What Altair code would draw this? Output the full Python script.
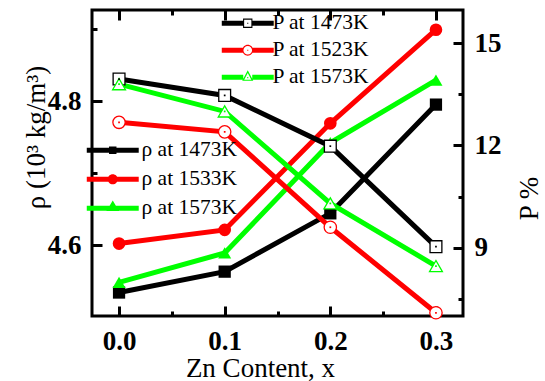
import altair as alt
import pandas as pd

# ---------------- data ----------------
x_vals = [0.0, 0.1, 0.2, 0.3]

rho_labels = ["ρ at 1473K", "ρ at 1533K", "ρ at 1573K"]
rho_1473 = [4.534, 4.563, 4.644, 4.795]
rho_1533 = [4.602, 4.621, 4.769, 4.899]
rho_1573 = [4.548, 4.589, 4.742, 4.829]

p_labels = ["P at 1473K", "P at 1523K", "P at 1573K"]
p_1473 = [13.95, 13.47, 11.98, 9.03]
p_1523 = [12.68, 12.40, 9.60, 7.09]
p_1573 = [13.80, 13.00, 10.30, 8.46]

x_ticks = [0.0, 0.1, 0.2, 0.3]
x_minor = [0.05, 0.15, 0.25]
rho_ticks = [4.6, 4.8]
rho_minor = [4.7, 4.9]
p_ticks = [9, 12, 15]
p_minor = [7.5, 10.5, 13.5]

series_colors = ["#000000", "#ff0000", "#00ff00"]

FONT = "Liberation Serif"
W, H = 371, 306


def long(labels, arrays):
    rows = []
    for lab, arr in zip(labels, arrays):
        for xv, v in zip(x_vals, arr):
            rows.append({"x": xv, "v": v, "s": lab})
    return pd.DataFrame(rows)


rho_df = long(rho_labels, [rho_1473, rho_1533, rho_1573])
p_df = long(p_labels, [p_1473, p_1523, p_1573])

xsc = alt.Scale(domain=[-0.0256, 0.3256], nice=False, zero=False)
ysc_rho = alt.Scale(domain=[4.5014, 4.9264], nice=False, zero=False)
ysc_p = alt.Scale(domain=[6.995, 15.977], nice=False, zero=False)


def axis(orient, values, size, labels=False, fmt=None, pad=0, title=None, **kw):
    args = dict(orient=orient, values=values, tickSize={"expr": str(-size)},
                tickWidth=3, tickColor="black", domain=False, grid=False,
                labels=labels, ticks=True)
    if labels:
        args.update(labelFont=FONT, labelFontSize=27, labelFontWeight="bold",
                    labelColor="black", labelPadding=pad, labelFlush=False)
        if fmt:
            args["format"] = fmt
    if title:
        args.update(title=title, titleFont=FONT, titleFontSize=27,
                    titleFontWeight="normal", titleColor="black", **kw)
    else:
        args["title"] = None
    return alt.Axis(**args)


ax_bottom = axis("bottom", x_ticks, 10, labels=True, fmt=".1f", pad=22,
                 title="Zn Content, x", titleX=168, titleY=60,
                 titleAlign="center", titleBaseline="alphabetic")
ax_bottom_minor = axis("bottom", x_minor, 5)
ax_top = axis("top", x_ticks, 10)
ax_top_minor = axis("top", x_minor, 5)
ax_left = axis("left", rho_ticks, 10, labels=True, fmt=".1f", pad=21,
               title="ρ (10³ kg/m³)", titleX=-48, titleY=127, titleAngle=270,
               titleAlign="center", titleBaseline="alphabetic")
ax_left_minor = axis("left", rho_minor, 5)
ax_right = axis("right", p_ticks, 10, labels=True, fmt="d", pad=21,
                title="P %", titleX=74, titleY=188, titleAngle=270,
                titleAlign="center", titleBaseline="alphabetic")
ax_right_minor = axis("right", p_minor, 5)

# ---------------- legend symbols (line + marker) ----------------
L, T = 4.33, 0.42


def rect(x0, x1, y0, y1):
    return f"M{x0},{y0}H{x1}V{y1}H{x0}Z"


def rect_ccw(x0, x1, y0, y1):
    return f"M{x0},{y0}V{y1}H{x1}V{y0}Z"


def circ(r):
    return f"M{-r},0A{r},{r} 0 1,1 {r},0A{r},{r} 0 1,1 {-r},0Z"


def circ_ccw(r):
    return f"M{-r},0A{r},{r} 0 1,0 {r},0A{r},{r} 0 1,0 {-r},0Z"


line_full = rect(-L, L, -T, T)
rho_paths = [
    line_full + rect(-0.62, 0.62, -0.62, 0.62),
    line_full + circ(0.85),
    line_full + "M0,-1.3L1.05,0.45L-1.05,0.45Z",
]
dot = rect(-0.09, 0.09, -0.09, 0.09)
p_paths = [
    rect(-L, -0.7, -T, T) + rect(0.7, L, -T, T)
    + rect(-0.78, 0.78, -0.78, 0.78) + rect_ccw(-0.6, 0.6, -0.6, 0.6) + dot,
    rect(-L, -0.8, -T, T) + rect(0.8, L, -T, T)
    + circ(0.9) + circ_ccw(0.72) + dot,
    rect(-L, -0.75, -T, T) + rect(0.75, L, -T, T)
    + "M0,-1.15L0.92,0.6L-0.92,0.6Z" + "M0,-0.72L-0.59,0.4L0.59,0.4Z"
    + rect(-0.09, 0.09, -0.03, 0.15),
]


def legend(x, y, loff, rowpad):
    return alt.Legend(orient="none", legendX=x, legendY=y, title=None, padding=0,
                      labelFont=FONT, labelFontSize=21.5, labelColor="black",
                      labelFontWeight="normal",
                      labelOffset=loff, labelLimit=0, symbolSize=144,
                      symbolStrokeWidth=0, symbolOpacity=1, rowPadding=rowpad)


def colscale(labels):
    return alt.Scale(domain=labels, range=series_colors)


def X(ax):
    return alt.X("x:Q", scale=xsc, axis=ax)


# ---------------- rho group (left axis) ----------------
rho_line = alt.Chart(rho_df).mark_line(strokeWidth=5).encode(
    x=X(ax_bottom),
    y=alt.Y("v:Q", scale=ysc_rho, axis=ax_left),
    color=alt.Color("s:N", scale=colscale(rho_labels), legend=None),
)
rho_pts = alt.Chart(rho_df).mark_point(filled=True, opacity=1, strokeWidth=0).encode(
    x=X(ax_bottom_minor),
    y=alt.Y("v:Q", scale=ysc_rho, axis=ax_left_minor),
    color=alt.Color("s:N", scale=colscale(rho_labels), legend=None),
    shape=alt.Shape("s:N", scale=alt.Scale(domain=rho_labels,
                    range=["square", "circle", "triangle-up"]), legend=None),
    size=alt.Size("s:N", scale=alt.Scale(domain=rho_labels, range=[150, 170, 225]),
                  legend=None),
)
rho_leg_def = legend(10, 129.5, 18, 6)
rho_leg = alt.Chart(rho_df).transform_filter("false").mark_point(
    filled=True, opacity=1).encode(
    x=X(ax_top),
    y=alt.Y("v:Q", scale=ysc_rho, axis=None),
    color=alt.Color("s:N", scale=colscale(rho_labels), legend=rho_leg_def),
    shape=alt.Shape("s:N", scale=alt.Scale(domain=rho_labels, range=rho_paths),
                    legend=rho_leg_def),
)
rho_extra = alt.Chart(rho_df).transform_filter("false").mark_point().encode(
    x=X(ax_top_minor),
    y=alt.Y("v:Q", scale=ysc_rho, axis=None),
)
rho_group = alt.layer(rho_line, rho_pts, rho_leg, rho_extra).resolve_scale(
    color="independent", shape="independent", size="independent"
).resolve_axis(x="independent", y="independent")

# ---------------- P group (right axis) ----------------
p_line = alt.Chart(p_df).mark_line(strokeWidth=5).encode(
    x=X(None),
    y=alt.Y("v:Q", scale=ysc_p, axis=ax_right),
    color=alt.Color("s:N", scale=colscale(p_labels), legend=None),
)
p_pts = alt.Chart(p_df).mark_point(filled=True, fill="white", opacity=1,
                                   strokeWidth=1.3).encode(
    x=X(None),
    y=alt.Y("v:Q", scale=ysc_p, axis=ax_right_minor),
    stroke=alt.Stroke("s:N", scale=colscale(p_labels), legend=None),
    shape=alt.Shape("s:N", scale=alt.Scale(domain=p_labels,
                    range=["square", "circle", "triangle-up"]), legend=None),
    size=alt.Size("s:N", scale=alt.Scale(domain=p_labels, range=[140, 165, 200]),
                  legend=None),
)
p_dot = alt.Chart(p_df).mark_point(filled=True, opacity=1, shape="square",
                                   size=3, strokeWidth=0).encode(
    x=X(None),
    y=alt.Y("v:Q", scale=ysc_p, axis=None),
    color=alt.Color("s:N", scale=colscale(p_labels), legend=None),
)
p_leg_def = legend(145, 2.5, 14, 4)
p_leg = alt.Chart(p_df).transform_filter("false").mark_point(
    filled=True, opacity=1).encode(
    x=X(None),
    y=alt.Y("v:Q", scale=ysc_p, axis=None),
    color=alt.Color("s:N", scale=colscale(p_labels), legend=p_leg_def),
    shape=alt.Shape("s:N", scale=alt.Scale(domain=p_labels, range=p_paths),
                    legend=p_leg_def),
)
p_group = alt.layer(p_line, p_pts, p_dot, p_leg).resolve_scale(
    color="independent", shape="independent", size="independent"
).resolve_axis(x="independent", y="independent")

chart = alt.layer(rho_group, p_group).resolve_scale(
    y="independent", color="independent", shape="independent",
    size="independent", stroke="independent"
).resolve_axis(x="independent", y="independent").properties(
    width=W, height=H,
    padding={"left": 92, "top": 10, "right": 82, "bottom": 65},
    autosize=alt.AutoSizeParams(type="none"),
    background="white",
).configure_view(stroke="black", strokeWidth=3).configure_legend(
    labelFont=FONT, labelFontSize=21.5, labelColor="black"
).configure_text(font=FONT)

chart.save("out.html", embed_options={"renderer": "svg", "actions": False})
